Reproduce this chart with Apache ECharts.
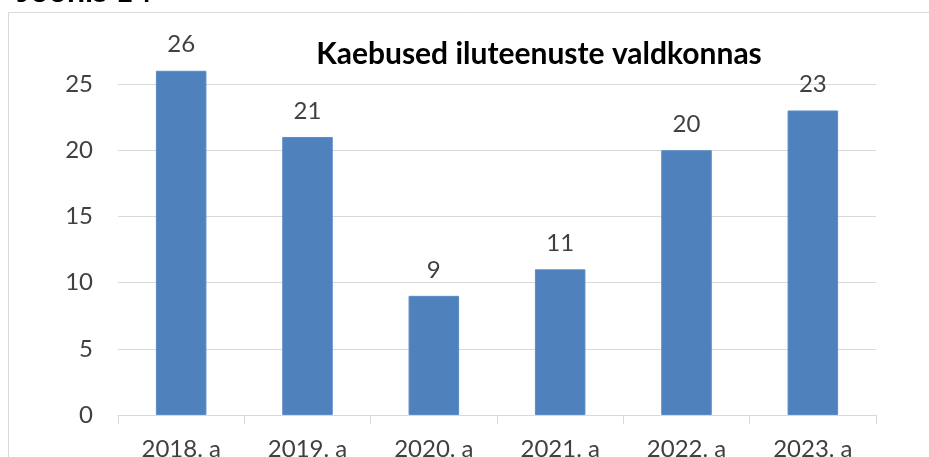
<!DOCTYPE html>
<html>
<head>
<meta charset="utf-8">
<script src="https://cdn.jsdelivr.net/npm/echarts@6/dist/echarts.min.js"></script>
<style>
html,body{margin:0;padding:0;background:#fff;}
#chart{width:929px;height:457px;}
</style>
</head>
<body>
<div id="chart"></div>
<script>
const categories = ['2018. a', '2019. a', '2020. a', '2021. a', '2022. a', '2023. a'];
const complaints = [26, 21, 9, 11, 20, 23];
const yTicks = [0, 5, 10, 15, 20, 25];
const titleText = 'Kaebused iluteenuste valdkonnas';
const figureText = 'Joonis 14';

const chart = echarts.init(document.getElementById('chart'), null, {renderer: 'canvas'});
const FONT = 'Lato';
chart.setOption({
  animation: false,
  backgroundColor: '#ffffff',
  title: {
    text: titleText,
    left: 539,
    top: 39,
    padding: 0,
    textAlign: 'center',
    textStyle: {fontFamily: FONT, fontWeight: 'bold', fontSize: 30, color: '#000000'}
  },
  graphic: [
    {type: 'rect', shape: {x: 8.5, y: 12.5, width: 1000, height: 1000}, style: {fill: 'none', stroke: '#d9d9d9', lineWidth: 1}, z: -1},
    {type: 'text', left: 17, top: -24, style: {text: figureText, fontFamily: FONT, fontWeight: 'bold', fontSize: 32, fill: '#000000'}}
  ],
  grid: {left: 118, right: 53, top: 84, bottom: 42, containLabel: false, outerBoundsMode: 'none'},
  xAxis: {
    type: 'category',
    data: categories,
    axisLine: {lineStyle: {color: '#d9d9d9', width: 1}},
    axisTick: {show: true, length: 9, lineStyle: {color: '#d9d9d9'}},
    axisLabel: {fontFamily: FONT, fontSize: 24, color: '#404040', margin: 22}
  },
  yAxis: {
    type: 'value',
    min: yTicks[0],
    max: yTicks[yTicks.length - 1],
    interval: yTicks[1] - yTicks[0],
    axisLine: {show: false},
    axisTick: {show: false},
    splitLine: {lineStyle: {color: '#d9d9d9', width: 1}},
    axisLabel: {fontFamily: FONT, fontSize: 24, color: '#404040', margin: 25}
  },
  series: [{
    type: 'bar',
    data: complaints,
    barWidth: '40%',
    clip: false,
    itemStyle: {color: '#4f81bd', borderColor: '#5b8cc6', borderWidth: 1},
    label: {show: true, position: 'top', distance: 14, fontFamily: FONT, fontSize: 24, color: '#404040'}
  }]
});
</script>
</body>
</html>
